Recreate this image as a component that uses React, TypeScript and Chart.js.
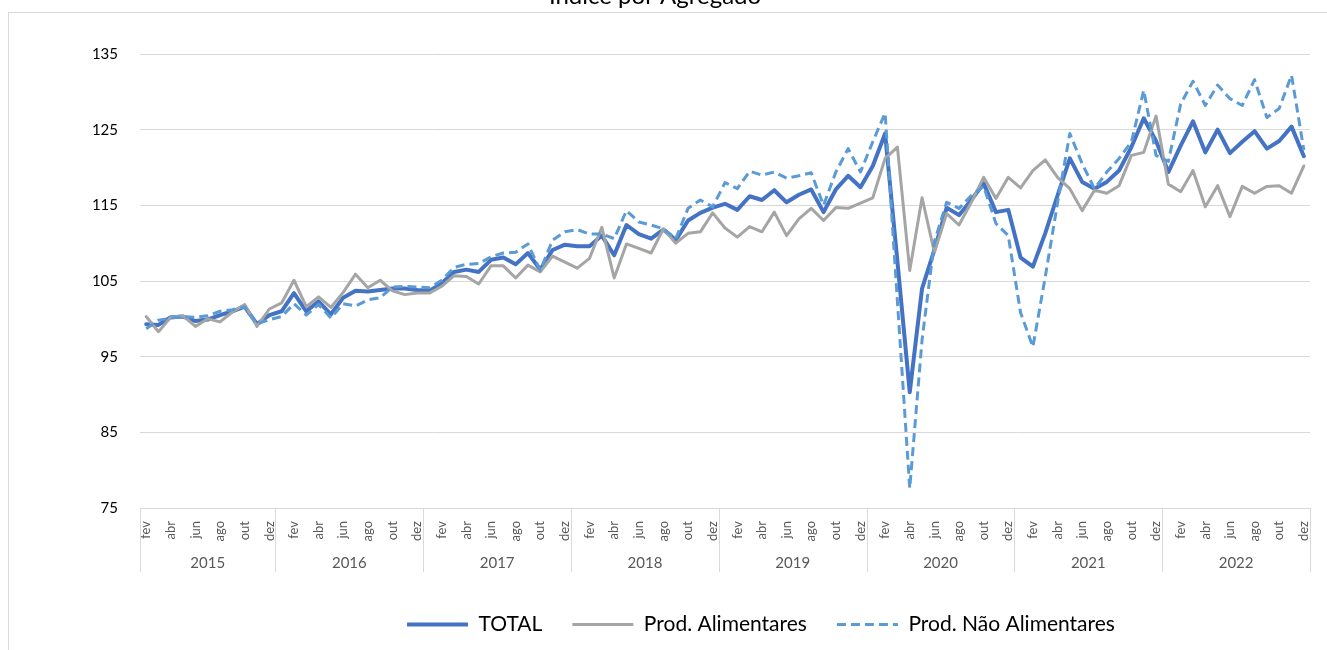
import React, { useEffect, useRef } from 'react';
import { Chart, registerables } from 'chart.js';

Chart.register(...registerables);

// ---- data ----
const chartTitle = 'Índice por Agregado';
const years = ['2015', '2016', '2017', '2018', '2019', '2020', '2021', '2022'];
const monthNames = ['jan', 'fev', 'mar', 'abr', 'mai', 'jun', 'jul', 'ago', 'set', 'out', 'nov', 'dez'];
const firstMonthIndex = 1; // series starts in fev 2015
const seriesNames = ['TOTAL', 'Prod. Alimentares', 'Prod. Não Alimentares'];

const totalValues = [
  99.3, 99.2, 100.2, 100.3, 99.7, 99.9, 100.5, 101.0, 101.6, 99.3, 100.5, 101.0,
  103.4, 101.0, 102.3, 100.6, 102.8, 103.7, 103.6, 103.8, 104.0, 104.0, 103.8, 103.7,
  104.7, 106.2, 106.5, 106.2, 107.8, 108.1, 107.2, 108.7, 106.5, 109.1, 109.8, 109.6,
  109.6, 111.0, 108.4, 112.4, 111.2, 110.6, 111.8, 110.4, 113.0, 114.0, 114.7, 115.2,
  114.4, 116.2, 115.7, 117.0, 115.4, 116.4, 117.1, 114.1, 117.1, 118.9, 117.4, 120.2,
  124.5, 107.6, 90.3, 104.0, 109.1, 114.7, 113.7, 115.7, 117.9, 114.1, 114.4, 108.1,
  106.9, 111.3, 116.3, 121.2, 118.1, 117.2, 118.1, 119.6, 122.7, 126.5, 123.5, 119.4,
  122.9, 126.1, 122.0, 125.0, 121.9, 123.4, 124.8, 122.5, 123.5, 125.4, 121.5,
];

const alimentaresValues = [
  100.3, 98.3, 100.2, 100.4, 99.0, 100.0, 99.6, 100.9, 101.9, 99.0, 101.3, 102.1,
  105.1, 101.6, 102.9, 101.5, 103.5, 105.9, 104.1, 105.1, 103.7, 103.2, 103.4, 103.4,
  104.3, 105.7, 105.6, 104.6, 107.0, 107.0, 105.4, 107.1, 106.2, 108.3, 107.5, 106.7,
  108.0, 112.1, 105.4, 109.9, 109.3, 108.7, 111.9, 110.0, 111.3, 111.5, 114.0, 112.0,
  110.8, 112.2, 111.5, 114.1, 111.0, 113.2, 114.6, 113.0, 114.7, 114.6, 115.3, 116.0,
  121.2, 122.7, 106.4, 116.0, 108.8, 113.9, 112.4, 115.4, 118.7, 115.9, 118.7, 117.3,
  119.6, 121.0, 118.7, 117.2, 114.3, 117.0, 116.6, 117.6, 121.6, 122.0, 126.8, 117.8,
  116.8, 119.6, 114.8, 117.6, 113.5, 117.5, 116.6, 117.5, 117.6, 116.6, 120.2,
];

const naoAlimentaresValues = [
  98.7, 99.8, 100.1, 100.3, 100.2, 100.4, 101.0, 101.2, 101.6, 99.3, 99.9, 100.3,
  102.0, 100.5, 101.9, 100.1, 102.0, 101.7, 102.5, 102.8, 104.2, 104.3, 104.2, 104.1,
  105.1, 106.8, 107.2, 107.3, 108.2, 108.7, 108.8, 109.9, 106.4, 110.4, 111.5, 111.8,
  111.2, 111.2, 110.6, 114.3, 112.8, 112.4, 111.9, 110.6, 114.6, 115.7, 114.8, 118.0,
  117.2, 119.5, 119.0, 119.4, 118.6, 118.9, 119.3, 115.0, 119.4, 122.5, 119.4, 123.4,
  127.2, 102.3, 77.6, 97.2, 110.2, 115.4, 114.6, 116.3, 117.5, 112.6, 111.0, 100.8,
  96.3, 105.5, 115.3, 124.5, 120.5, 117.2, 119.4, 121.2, 123.4, 130.2, 121.6, 120.8,
  128.4, 131.4, 128.2, 130.9, 129.1, 128.2, 131.6, 126.6, 127.8, 132.2, 122.3,
];

const yMin = 75;
const yMax = 135;
const yStep = 10;

// ---- derived categories ----
const categoryMonths: string[] = totalValues.map((_, k) => monthNames[(firstMonthIndex + k) % 12]);
const categoryYears: string[] = totalValues.map((_, k) => years[Math.floor((firstMonthIndex + k) / 12)]);

const FONT = "Lato, 'Open Sans', 'DejaVu Sans', sans-serif";

const yearGroupsPlugin = {
  id: 'yearGroups',
  afterDraw(chart: any) {
    const xs = chart.scales.x;
    const ctx = chart.ctx as CanvasRenderingContext2D;
    const n = categoryYears.length;
    const step = xs.getPixelForValue(1) - xs.getPixelForValue(0);
    ctx.save();
    ctx.strokeStyle = '#D9D9D9';
    ctx.lineWidth = 1;
    ctx.font = `15px ${FONT}`;
    ctx.fillStyle = '#595959';
    ctx.textAlign = 'center';
    ctx.textBaseline = 'middle';
    const lineTop = xs.top;
    const lineBottom = xs.top + 64;
    const drawSep = (x: number) => {
      const px = Math.round(x) + 0.5;
      ctx.beginPath();
      ctx.moveTo(px, lineTop);
      ctx.lineTo(px, lineBottom);
      ctx.stroke();
    };
    let start = 0;
    for (let i = 1; i <= n; i++) {
      if (i === n || categoryYears[i] !== categoryYears[start]) {
        const x0 = xs.getPixelForValue(start) - step / 2;
        const x1 = xs.getPixelForValue(i - 1) + step / 2;
        drawSep(x0);
        if (i === n) drawSep(x1);
        ctx.fillText(categoryYears[start], (x0 + x1) / 2, xs.top + 54.7);
        start = i;
      }
    }
    ctx.restore();
  },
};

const LEGEND_SHIFT = 106;
const legendShiftPlugin = {
  id: 'legendShift',
  afterLayout(chart: any) {
    const lg = chart.legend;
    if (lg) {
      lg.left += LEGEND_SHIFT;
      lg.right += LEGEND_SHIFT;
    }
  },
};

export default function App() {
  const canvasRef = useRef<HTMLCanvasElement | null>(null);

  useEffect(() => {
    if (!canvasRef.current) return;
    Chart.defaults.font.family = FONT;
    const chart = new Chart(canvasRef.current, {
      type: 'line',
      data: {
        labels: categoryMonths,
        datasets: [
          {
            label: seriesNames[0],
            data: totalValues,
            borderColor: '#4472C4',
            backgroundColor: '#4472C4',
            borderWidth: 4,
            pointRadius: 0,
            tension: 0,
            borderJoinStyle: 'round',
            borderCapStyle: 'round',
            order: 3,
          },
          {
            label: seriesNames[1],
            data: alimentaresValues,
            borderColor: '#A5A5A5',
            backgroundColor: '#A5A5A5',
            borderWidth: 3,
            pointRadius: 0,
            tension: 0,
            borderJoinStyle: 'round',
            borderCapStyle: 'round',
            order: 2,
          },
          {
            label: seriesNames[2],
            data: naoAlimentaresValues,
            borderColor: '#5B9BD5',
            backgroundColor: '#5B9BD5',
            borderWidth: 3,
            borderDash: [9, 5],
            pointRadius: 0,
            tension: 0,
            borderJoinStyle: 'round',
            order: 1,
          },
        ],
      },
      options: {
        responsive: false,
        animation: false,
        events: [],
        devicePixelRatio: 1,
        layout: { padding: { top: 0, left: 0, right: 17, bottom: 5 } },
        plugins: {
          title: {
            display: true,
            text: chartTitle,
            color: '#000',
            font: { size: 24, weight: 'normal', family: FONT },
            padding: { top: 0, bottom: 43.2 },
          },
          legend: {
            display: true,
            position: 'bottom',
            labels: {
              color: '#000',
              font: { size: 21, family: FONT },
              usePointStyle: true,
              pointStyleWidth: 61,
              boxHeight: 21,
              padding: 30,
              sort: (a: any, b: any) => a.datasetIndex - b.datasetIndex,
              generateLabels: (c: any) => {
                const items = (Chart.defaults.plugins.legend.labels as any).generateLabels(c);
                return items.map((item: any) => {
                  const ds: any = c.data.datasets[item.datasetIndex];
                  return {
                    ...item,
                    pointStyle: 'line',
                    lineWidth: ds.borderWidth,
                    lineDash: ds.borderDash || [],
                    strokeStyle: ds.borderColor,
                    fontColor: '#000',
                  };
                });
              },
            },
          },
          tooltip: { enabled: false },
        },
        scales: {
          x: {
            type: 'category',
            offset: true,
            grid: { display: false },
            border: { display: false },
            ticks: {
              autoSkip: false,
              maxRotation: 90,
              minRotation: 90,
              padding: 5,
              color: '#595959',
              font: { size: 13, family: FONT },
              callback: (_v: any, i: number) => (i % 2 === 0 ? categoryMonths[i] : ''),
            },
            afterFit: (scale: any) => {
              scale.height = 76;
            },
          },
          y: {
            min: yMin,
            max: yMax,
            grid: { color: '#D9D9D9', lineWidth: 1, drawTicks: false },
            border: { display: false },
            ticks: {
              stepSize: yStep,
              padding: 22,
              color: '#000',
              font: { size: 15, family: FONT },
            },
            afterFit: (scale: any) => {
              scale.width = 140;
            },
          },
        },
      } as any,
      plugins: [yearGroupsPlugin, legendShiftPlugin],
    });
    return () => chart.destroy();
  }, []);

  return (
    <div style={{ position: 'fixed', inset: 0, overflow: 'hidden', background: '#fff' }}>
      <div
        style={{
          position: 'absolute',
          left: 8,
          top: 12,
          width: 1400,
          height: 700,
          border: '1px solid #D9D9D9',
          boxSizing: 'border-box',
        }}
      />
      <canvas
        ref={canvasRef}
        width={1327}
        height={668}
        style={{ position: 'absolute', left: 0, top: -18, width: 1327, height: 668 }}
      />
    </div>
  );
}
